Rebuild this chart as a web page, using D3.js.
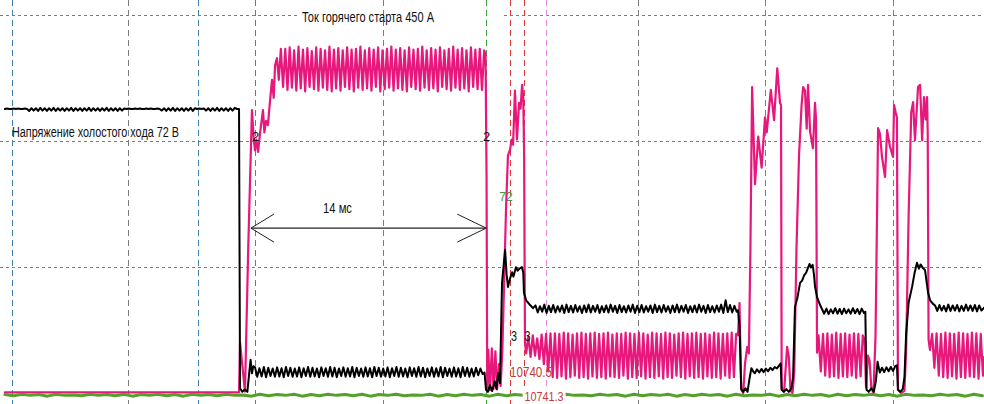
<!DOCTYPE html>
<html lang="ru">
<head>
<meta charset="utf-8">
<title>Горячий старт</title>
<script src="https://cdn.jsdelivr.net/npm/d3@7"></script>
<style>
  html, body { margin: 0; padding: 0; background: #fff; }
  svg { display: block; }
  .gridH { stroke: #7d7d7d; stroke-width: 1; stroke-dasharray: 3,3; }
  .gridV { stroke: #7d7d7d; stroke-width: 1; stroke-dasharray: 6,4; }
  .cursor { stroke-width: 1; stroke-dasharray: 6,4; fill: none; }
  .trace { fill: none; stroke-linejoin: round; stroke-linecap: round; }
  .lbl { font-family: "Liberation Sans Narrow", "Arial Narrow", "Liberation Sans", Arial, sans-serif; fill: #111; }
</style>
</head>
<body>
<script>
// time in ms from the left edge of the screen, absolute time of that edge
var timeOrigin = 10710.5;
var timeSpan = 57.88;
var sampleStep = 0.13;   // ripple sample step, ms
var greenStep = 0.5;

// grid: 7.5 ms per division, 3 divisions up
var gridTimes = [7.5, 15, 22.5, 30, 37.5, 45, 52.5];
var gridRows = [1, 2, 3];

// cursors (ms)
var blueCursors = [0.7, 11.65];
var greenCursors = [15.0, 28.6];
var redCursors = [30.0, 30.8];
var pinkCursors = [32.1];

// ---- voltage, V (black) ----
var voltIdle = [72.0,72.1,72.0,72.0,72.1,72.0,72.1,72.0,72.0,72.1,72.0,
  71.5,72.2,71.6,72.2,71.5,72.3,71.6,72.2,71.5,72.2,71.6,72.3,71.5,72.2,71.6,72.2,71.5,72.2,71.6,72.3,71.5,72.2,
  71.6,72.2,71.5,72.2,71.6,72.3,71.5,72.2,71.6,72.2,71.5,72.2,71.6,72.3,71.5,72.2,71.6,72.2,71.5,72.2,71.6,
  72.1,72.0,72.1,72.0,72.0,72.1,72.0,72.1,72.0,72.0,72.1,72.0,72.1,72.0,72.0,72.1,72.0,
  71.6,72.2,71.5,72.2,71.6,72.3,71.5,72.2,71.6,72.2,71.5,72.2,71.6,72.3,71.5,72.2,72.0,72.1,72.0,72.1,
  71.6,72.2,71.5,72.2,71.6,72.3,71.5,72.2,71.6,72.2,71.5,72.2,71.6,72.3,72.0];
var voltDrop1 = [[14.06,72.0],[14.12,1.2],[14.25,0.3],[14.4,0.9],[14.55,0.3],[14.68,6.0],[14.74,8.4],[14.82,5.0],[14.9,6.8]];
var voltArcLow = [6.5,4.1,6.3,4.2,6.6,4.0,6.4,4.3,6.2,4.1,
  6.5,4.2,6.3,4.0,6.6,4.3,6.4,4.1,6.2,4.2,
  6.5,4.0,6.3,4.3,6.6,4.1,6.4,4.2,6.2,4.0,
  6.5,4.3,6.3,4.1,6.6,4.2,6.4,4.0,6.2,4.3,
  6.5,4.1,6.3,4.2,6.6,4.0,6.4,4.3,6.2,4.1,
  6.5,4.2,6.3,4.0,6.6,4.3,6.4,4.1,6.2,4.2,
  6.5,4.0,6.3,4.3,6.6,4.1,6.4,4.2,6.2,4.0,
  6.5,4.3,6.3,4.1,6.6,4.2,6.4,4.0,6.2,4.3,
  6.5,4.1,6.3,4.2,6.6,4.0,6.4,4.3,6.2,4.1,
  6.5,4.2,6.3,4.0,6.6,4.3,6.4,4.1,6.2,4.2,
  6.4,4.5,6.2,4.8];
var voltBreak = [[28.5,5.2],[28.59,0.8],[28.7,0.3],[28.82,2.0],[28.95,0.5],[29.1,3.0],[29.2,1.0],[29.3,5.0],[29.41,2.5],
  [29.47,15.0],[29.53,27.9],[29.65,33.5],[29.71,36.3],[29.8,30.0],[29.88,26.9],[30.0,29.0],[30.12,30.6],[30.2,29.5],
  [30.35,31.9],[30.45,31.0],[30.55,31.5],[30.7,31.9],[30.78,30.5],[30.82,25.4],[30.95,23.5],[31.18,22.3],[31.35,21.5]];
var voltArcMid1 = [22.2,20.4,22.0,20.6,22.4,20.3,22.1,20.5,22.3,20.4,
  22.0,20.6,22.2,20.3,22.4,20.5,22.1,20.4,22.3,20.6,
  22.0,20.3,22.2,20.5,22.4,20.4,22.1,20.6,22.3,20.3,
  22.0,20.5,22.2,20.4,22.4,20.6,22.1,20.3,22.3,20.5,
  22.0,20.4,22.2,20.6,22.4,20.3,22.1,20.5,22.3,20.4,
  22.0,20.6,22.2,20.3,22.4,20.5,22.1,20.4,22.3,20.6,
  22.0,20.3,22.2,20.5,22.4,20.4,22.1,20.6,22.3,20.3,
  22.0,20.5,22.2,20.4,22.4,20.6,22.1,20.3,22.3,20.5,
  22.0,20.4,22.2,20.6,22.4,20.3,23.5,20.5,22.3,20.4,
  22.1,20.6];
var voltDip1 = [[43.41,21.0],[43.5,17.0],[43.6,1.0],[43.72,0.3],[43.85,1.2],[43.97,0.3],[44.1,4.0],[44.2,6.3],[44.3,5.5]];
var voltArcLow2 = [5.0,6.0,5.2,6.1,5.3,6.2,5.5,6.4,5.8,6.6,6.2,7.0];
var voltPulse1 = [[45.92,7.5],[45.98,0.8],[46.1,0.3],[46.25,1.0],[46.4,0.3],[46.55,1.2],[46.65,4.0],[46.76,21.8],[46.9,24.0],
  [47.06,27.9],[47.18,28.5],[47.3,29.8],[47.42,30.5],[47.55,32.0],[47.62,32.7],[47.7,31.8],[47.8,32.5],[47.88,30.0],
  [47.94,27.0],[48.06,24.3],[48.24,22.3]];
var voltArcMid2 = [21.3,20.1,21.4,20.0,21.2,20.2,21.5,20.1,21.3,20.0,21.4,20.2,21.2,20.1,21.5,20.2,21.3,20.0,21.4,20.3];
var voltDip2 = [[50.9,20.6],[50.97,0.8],[51.1,0.3],[51.25,1.2],[51.4,0.3],[51.52,3.0],[51.62,7.9]];
var voltArcLow3 = [5.2,6.4,5.3,6.5,5.5,6.6,5.6,6.8];
var voltPulse2 = [[52.76,7.0],[52.82,0.8],[52.95,0.3],[53.1,1.0],[53.2,4.0],[53.3,15.0],[53.45,23.0],[53.65,26.9],[53.8,30.5],
  [53.94,33.0],[54.05,31.5],[54.15,32.6],[54.3,31.6],[54.41,31.2],[54.59,25.4],[54.71,23.5],[54.88,22.6]];
var voltArcMid3 = [22.2,20.8,22.3,20.9,22.1,20.7,22.4,20.8,22.2,20.9,22.3,20.7,22.1,20.8,22.4,20.9,22.2,20.8,22.3,20.7,22.2,20.9];
var voltEnd = [[57.88,21.6]];

// ---- current, A (pink) ----
var ampStart = [[0.29,1],[14.06,1],[14.12,70],[14.41,2],[14.6,200],[14.82,393],[14.92,355],[15.0,337],[15.08,352],[15.18,335],
  [15.3,362],[15.47,393],[15.55,362],[15.65,378],[15.76,372],[15.88,405],[16.0,435],[16.1,410],[16.18,455],[16.29,465],
  [16.4,435],[16.52,478]];
var ampHot = [425,478,421,480,424,476,420,481,423,477,
  419,479,425,475,422,480,420,478,424,476,
  421,481,419,477,423,479,420,476,425,480,
  422,477,419,478,424,481,421,476,423,479,
  420,477,425,480,419,476,422,478,424,481,
  420,477,423,479,421,476,419,480,425,477,
  422,478,420,481,424,476,421,479,423,477,
  419,480,425,476,422,478,420,481,424,477,
  421,479,423,476,419,480,425,477,422,478,
  421,476];
var ampBreak = [[28.56,470],[28.62,300],[28.66,5],[28.72,60],[28.82,4],[28.93,62],[29.03,6],[29.14,58],[29.24,5],[29.35,40],
  [29.45,10],[29.55,60],[29.65,150],[29.77,260],[29.88,330],[30.0,338],[30.1,352],[30.18,345],[30.29,420],[30.41,352],
  [30.53,403],[30.62,395],[30.71,428],[30.78,410],[30.83,330],[30.88,70]];
var ampArc1 = [55,78,50,80,52,76,47,81,40,82,30,83,
  22,83,21,82,23,84,20,83,22,81,
  24,83,21,84,22,82,20,83,23,84,
  21,82,22,83,20,84,23,81,22,83,
  21,82,24,84,20,83,22,82,21,84,
  23,83,20,81,22,84,21,83,23,82,
  20,84,22,83,21,81,24,83,22,84,
  20,82,23,83,21,84,22,82,20,83,
  23,81,21,84,22,83,20,82,24,83,
  21,84,22,82];
var ampPulse1 = [[43.41,80],[43.5,125],[43.6,5],[43.72,0],[43.82,40],[43.95,64],[44.05,55],[44.14,200],[44.24,425],[44.41,290],
  [44.6,356],[44.8,313],[45.0,383],[45.1,362],[45.34,421],[45.53,379],[45.72,451],[45.88,403],[45.94,400],[45.98,5],
  [46.12,2],[46.3,64],[46.4,50],[46.5,3],[46.62,0],[46.72,30],[46.85,200],[47.0,330],[47.15,400],[47.24,425],[47.35,420],
  [47.45,367],[47.53,428],[47.65,363],[47.82,340],[47.94,403],[48.0,380],[48.06,56]];
var ampArc2 = [80,30,82,24,83,22,81,23,84,21,82,23,83,22,81,24,83,21,82,23,80];
var ampPulse2 = [[50.85,75],[50.94,8],[51.05,52],[51.15,45],[51.25,8],[51.38,0],[51.5,80],[51.59,250],[51.65,368],[51.76,360],
  [51.88,328],[52.06,300],[52.18,365],[52.35,342],[52.53,328],[52.59,400],[52.68,390],[52.76,383],[52.82,5],[53.0,0],
  [53.2,3],[53.3,60],[53.45,250],[53.6,390],[53.71,404],[53.82,351],[54.0,425],[54.12,428],[54.24,351],[54.35,411],
  [54.45,380],[54.53,411],[54.57,360],[54.62,74]];
var ampArc3 = [60,82,35,83,24,82,22,84,21,83,23,82,20,84,22,83,21,82,23,84,22,83,20,82,24];
var ampEnd = [[57.88,50]];

// ---- third channel, V (green), near zero ----
var greenVals = [-0.4,-0.7,-0.3,-0.6,-0.4,-0.8,-0.3,-0.6,-0.5,-0.7,
  -0.3,-0.6,-0.4,-0.7,-0.3,-0.8,-0.4,-0.6,-0.3,-0.7,
  -0.4,-0.8,-0.3,-0.6,-0.4,-0.7,-0.3,-0.6,-0.5,-0.8,
  -0.3,-0.7,-0.4,-0.6,-0.3,-0.8,-0.4,-0.7,-0.3,-0.6,
  -0.4,-0.7,-0.3,-0.8,-0.4,-0.6,-0.3,-0.7,-0.5,-0.6,
  -0.3,-0.8,-0.4,-0.7,-0.3,-0.6,-0.4,-0.8,-0.3,-0.7,
  -0.4,-0.6,-0.3,-0.7,-0.4,-0.8,-0.3,-0.6,-0.5,-0.7,
  -0.3,-0.6,-0.4,-0.8,-0.3,-0.7,-0.4,-0.6,-0.3,-0.8,
  -0.4,-0.7,-0.3,-0.6,-0.4,-0.8,-0.3,-0.7,-0.5,-0.6,
  -0.3,-0.8,-0.4,-0.7,-0.3,-0.6,-0.4,-0.8,-0.3,-0.7,
  -0.4,-0.6,-0.3,-0.7,-0.4,-0.8,-0.3,-0.6,-0.5,-0.7,
  -0.3,-0.6,-0.4,-0.8,-0.3,-0.7];

// measured interval arrow, ms, and its level in V
var arrowSpan = [14.76, 28.6];
var arrowLevel = 41.8;

var voltParts = [
  {t0: 0.29, values: voltIdle}, {points: voltDrop1},
  {t0: 15.0, values: voltArcLow}, {points: voltBreak},
  {t0: 31.5, values: voltArcMid1}, {points: voltDip1},
  {t0: 44.4, values: voltArcLow2}, {points: voltPulse1},
  {t0: 48.35, values: voltArcMid2}, {points: voltDip2},
  {t0: 51.75, values: voltArcLow3}, {points: voltPulse2},
  {t0: 55.0, values: voltArcMid3}, {points: voltEnd}
];
var ampParts = [
  {points: ampStart}, {t0: 16.65, values: ampHot}, {points: ampBreak},
  {t0: 30.95, values: ampArc1}, {points: ampPulse1},
  {t0: 48.15, values: ampArc2}, {points: ampPulse2},
  {t0: 54.7, values: ampArc3}, {points: ampEnd}
];

function buildTrace(parts, step) {
  var pts = [];
  parts.forEach(function(p) {
    if (p.values) {
      p.values.forEach(function(v, i) { pts.push([p.t0 + i * step, v]); });
    } else {
      p.points.forEach(function(q) { pts.push(q); });
    }
  });
  return pts;
}

var w = 984, h = 404;

var xScale = d3.scaleLinear().domain([0, timeSpan]).range([0, w]);
var yDiv = d3.scaleLinear().domain([0, 3]).range([393, 15]);
var yVolt = d3.scaleLinear().domain([0, 72]).range([393, 109]);
var yAmp = d3.scaleLinear().domain([0, 450]).range([393, 69]);

var svg = d3.select("body").append("svg")
  .attr("width", w)
  .attr("height", h);

//Grid rows
svg.selectAll("line.gridH")
  .data(gridRows)
  .enter().append("line")
  .attr("class", "gridH")
  .attr("x1", 0).attr("x2", w)
  .attr("y1", function(d) { return yDiv(d) + 0.5; })
  .attr("y2", function(d) { return yDiv(d) + 0.5; });

// white box behind the top title
svg.append("rect")
  .attr("x", 298).attr("y", 8)
  .attr("width", 205).attr("height", 15)
  .attr("fill", "#fff");

//Grid columns
svg.selectAll("line.gridV")
  .data(gridTimes)
  .enter().append("line")
  .attr("class", "gridV")
  .attr("y1", 0).attr("y2", h)
  .attr("x1", function(d) { return Math.round(xScale(d)) + 0.5; })
  .attr("x2", function(d) { return Math.round(xScale(d)) + 0.5; });

function drawCursors(list, color) {
  svg.selectAll(null)
    .data(list)
    .enter().append("line")
    .attr("class", "cursor")
    .attr("stroke", color)
    .attr("y1", 0).attr("y2", h)
    .attr("x1", function(d) { return Math.round(xScale(d)) + 0.5; })
    .attr("x2", function(d) { return Math.round(xScale(d)) + 0.5; });
}
drawCursors(blueCursors, "#3f7fa6");
drawCursors(greenCursors, "#3c9e3c");
drawCursors(redCursors, "#d63a3a");
drawCursors(pinkCursors, "#e58ae0");

// green cursor readout, mostly covered by the traces
svg.append("text")
  .attr("class", "lbl")
  .attr("x", xScale(greenCursors[1]) + 13)
  .attr("y", 201)
  .attr("font-size", 12)
  .style("fill", "#3c9e3c")
  .text("72");

var lineV = d3.line()
  .x(function(d) { return xScale(d[0]); })
  .y(function(d) { return yVolt(d[1]); });
var lineA = d3.line()
  .x(function(d) { return xScale(d[0]); })
  .y(function(d) { return yAmp(d[1]); });

var ampData = buildTrace(ampParts, sampleStep);
var voltData = buildTrace(voltParts, sampleStep);
var greenData = greenVals.map(function(v, i) { return [0.29 + i * greenStep, v]; });

svg.append("path")
  .datum(ampData)
  .attr("class", "trace")
  .attr("stroke", "#e8177c")
  .attr("stroke-width", 2.2)
  .attr("d", lineA);

svg.append("path")
  .datum(voltData)
  .attr("class", "trace")
  .attr("stroke", "#000")
  .attr("stroke-width", 2)
  .attr("d", lineV);

svg.append("path")
  .datum(greenData)
  .attr("class", "trace")
  .attr("stroke", "#55a02a")
  .attr("stroke-width", 3)
  .attr("d", lineV);

//Arrow for the 14 ms interval
var ax1 = xScale(arrowSpan[0]), ax2 = xScale(arrowSpan[1]), ay = yVolt(arrowLevel);
var arrow = svg.append("g").attr("stroke", "#222").attr("stroke-width", 1).attr("fill", "none");
arrow.append("line").attr("x1", ax1).attr("x2", ax2).attr("y1", ay).attr("y2", ay).attr("stroke-width", 1.3);
arrow.append("path").attr("d", "M" + (ax1 + 23) + "," + (ay - 14) + "L" + ax1 + "," + ay + "L" + (ax1 + 23) + "," + (ay + 14));
arrow.append("path").attr("d", "M" + (ax2 - 29) + "," + (ay - 14) + "L" + ax2 + "," + ay + "L" + (ax2 - 29) + "," + (ay + 14));

function label(txt, x, y, size, len, anchor, color) {
  var t = svg.append("text")
    .attr("class", "lbl")
    .attr("x", x).attr("y", y)
    .attr("font-size", size)
    .attr("text-anchor", anchor || "start")
    .text(txt);
  if (len) t.attr("textLength", len).attr("lengthAdjust", "spacingAndGlyphs");
  if (color) t.style("fill", color);
  return t;
}

label("Напряжение холостого хода 72 В", 12, 137, 14, 167);
label("Ток горячего старта 450 А", 302, 22, 14, 132);
label("14 мс", 323, 213, 14, 29);

greenCursors.forEach(function(t) {
  label("2", xScale(t) + 0.5, 140.5, 13, null, "middle");
});
redCursors.forEach(function(t) {
  label("3", xScale(t) + 1, 341, 14, 6);
});

var c1 = xScale(redCursors[0]), c2 = xScale(redCursors[1]);
label((timeOrigin + redCursors[0]).toFixed(1), c1, 377, 15, 42, "start", "#c43c3c");
svg.append("rect")
  .attr("x", c2 - 1).attr("y", 390)
  .attr("width", 43).attr("height", 14)
  .attr("fill", "#fff");
label((timeOrigin + redCursors[1]).toFixed(1), c2 + 1, 400.5, 12, 39, "start", "#c43c3c");
</script>
</body>
</html>
